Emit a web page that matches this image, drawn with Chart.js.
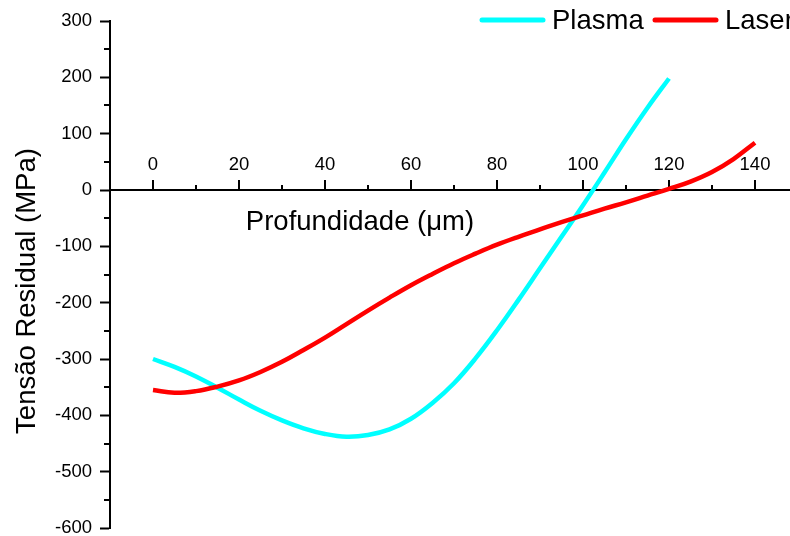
<!DOCTYPE html>
<html>
<head>
<meta charset="utf-8">
<script src="https://cdn.jsdelivr.net/npm/chart.js@4.4.1/dist/chart.umd.min.js"></script>
<style>
  html, body { margin: 0; padding: 0; background: #fff; overflow: hidden; }
  #wrap { width: 800px; height: 536px; }
</style>
</head>
<body>
<div id="wrap"><canvas id="c" width="800" height="536"></canvas></div>
<script>
// Residual stress profiles (MPa) versus depth (µm)
const depthPlasma  = [0, 5, 10, 15, 20, 25, 30, 35, 40, 45, 50, 55, 60, 65, 70, 75, 80, 85, 90, 95, 100, 105, 110, 115, 120];
const plasmaStress = [-300, -314, -331, -351, -372, -392, -409, -423, -433, -438, -435, -425, -406, -378, -343, -299, -249, -195, -139, -83, -27, 31, 90, 146, 198];

const depthLaser  = [0, 5, 10, 15, 20, 25, 30, 35, 40, 45, 50, 55, 60, 65, 70, 75, 80, 85, 90, 95, 100, 105, 110, 115, 120, 125, 130, 135, 140];
const laserStress = [-355, -360, -357, -349, -338, -323, -305, -284, -262, -238, -214, -191, -169, -149, -130, -113, -97, -83, -70, -57, -45, -33, -22, -10, 2, 15, 32, 55, 84];

const seriesNames  = ['Plasma', 'Laser'];
const seriesColors = ['#00FFFF', '#FF0000'];

// Axis ticks
const yTickValues  = [-600, -500, -400, -300, -200, -100, 0, 100, 200, 300];
const yMinorTicks  = [-550, -450, -350, -250, -150, -50, 50, 150, 250];
const xTickValues  = [0, 20, 40, 60, 80, 100, 120, 140];
const xMinorTicks  = [10, 30, 50, 70, 90, 110, 130];

const xTitle = 'Profundidade (\u03BCm)';
const yTitle = 'Tensão Residual (MPa)';

const FONT = '"Liberation Sans", Arial, Helvetica, sans-serif';

const toPoints = (xs, ys) => xs.map((v, i) => ({ x: v, y: ys[i] }));

// Depth axis crossing at zero stress, with ticks and labels above the line
const depthAxis = {
  id: 'depthAxis',
  beforeDatasetsDraw(chart) {
    const { ctx, chartArea, scales: { x, y } } = chart;
    const y0 = Math.round(y.getPixelForValue(0));
    ctx.save();
    ctx.strokeStyle = '#000';
    ctx.fillStyle = '#000';
    ctx.lineWidth = 2;
    ctx.lineCap = 'butt';

    ctx.beginPath();
    ctx.moveTo(chartArea.left, y0);
    ctx.lineTo(chartArea.right, y0);
    ctx.stroke();

    ctx.font = '18.5px ' + FONT;
    ctx.textAlign = 'center';
    ctx.textBaseline = 'alphabetic';
    xTickValues.forEach(v => {
      const px = Math.round(x.getPixelForValue(v));
      ctx.beginPath();
      ctx.moveTo(px, y0);
      ctx.lineTo(px, y0 - 10);
      ctx.stroke();
      ctx.fillText(String(v), px, y0 - 20);
    });
    xMinorTicks.forEach(v => {
      const px = Math.round(x.getPixelForValue(v));
      ctx.beginPath();
      ctx.moveTo(px, y0);
      ctx.lineTo(px, y0 - 5);
      ctx.stroke();
    });

    // minor ticks on the stress axis
    yMinorTicks.forEach(v => {
      const py = Math.round(y.getPixelForValue(v));
      ctx.beginPath();
      ctx.moveTo(chartArea.left - 6, py);
      ctx.lineTo(chartArea.left, py);
      ctx.stroke();
    });

    // axis titles
    ctx.font = '27.5px ' + FONT;
    ctx.textAlign = 'center';
    ctx.fillText(xTitle, 360, 230);
    ctx.translate(35, 291);
    ctx.rotate(-Math.PI / 2);
    ctx.fillText(yTitle, 0, 0);
    ctx.restore();
  },
  afterDraw(chart) {
    const { ctx } = chart;
    const items = [
      { lx: 482, tx: 552 },
      { lx: 655, tx: 725 }
    ];
    ctx.save();
    ctx.font = '27.5px ' + FONT;
    ctx.textAlign = 'left';
    ctx.textBaseline = 'alphabetic';
    chart.data.datasets.forEach((ds, i) => {
      const it = items[i];
      ctx.strokeStyle = ds.borderColor;
      ctx.lineWidth = 5;
      ctx.lineCap = 'round';
      ctx.beginPath();
      ctx.moveTo(it.lx, 20);
      ctx.lineTo(it.lx + 61, 20);
      ctx.stroke();
      ctx.fillStyle = '#000';
      ctx.fillText(ds.label, it.tx, 29);
    });
    ctx.restore();
  }
};

new Chart(document.getElementById('c'), {
  type: 'line',
  data: {
    datasets: [
      {
        label: seriesNames[0],
        data: toPoints(depthPlasma, plasmaStress),
        borderColor: seriesColors[0],
        borderWidth: 4.5,
        pointRadius: 0,
        tension: 0.4,
        order: 2
      },
      {
        label: seriesNames[1],
        data: toPoints(depthLaser, laserStress),
        borderColor: seriesColors[1],
        borderWidth: 4.5,
        pointRadius: 0,
        tension: 0.4,
        order: 1
      }
    ]
  },
  options: {
    responsive: false,
    animation: false,
    devicePixelRatio: 1,
    layout: { autoPadding: false, padding: { left: 0, top: 21, right: 2, bottom: 8 } },
    plugins: { legend: { display: false }, tooltip: { enabled: false } },
    scales: {
      x: {
        type: 'linear',
        min: -10,
        max: 150,
        display: false
      },
      y: {
        type: 'linear',
        position: 'left',
        min: -600,
        max: 300,
        afterBuildTicks(scale) {
          scale.ticks = yTickValues.map(v => ({ value: v }));
        },
        afterFit(scale) {
          scale.width = 110;
          scale.paddingTop = 0;
          scale.paddingBottom = 0;
        },
        ticks: {
          color: '#000',
          font: { family: FONT, size: 18.5 },
          padding: 8
        },
        grid: {
          drawOnChartArea: false,
          drawTicks: true,
          tickLength: 10,
          tickWidth: 2,
          tickColor: '#000'
        },
        border: { display: true, color: '#000', width: 2 }
      }
    }
  },
  plugins: [depthAxis]
});
</script>
</body>
</html>
